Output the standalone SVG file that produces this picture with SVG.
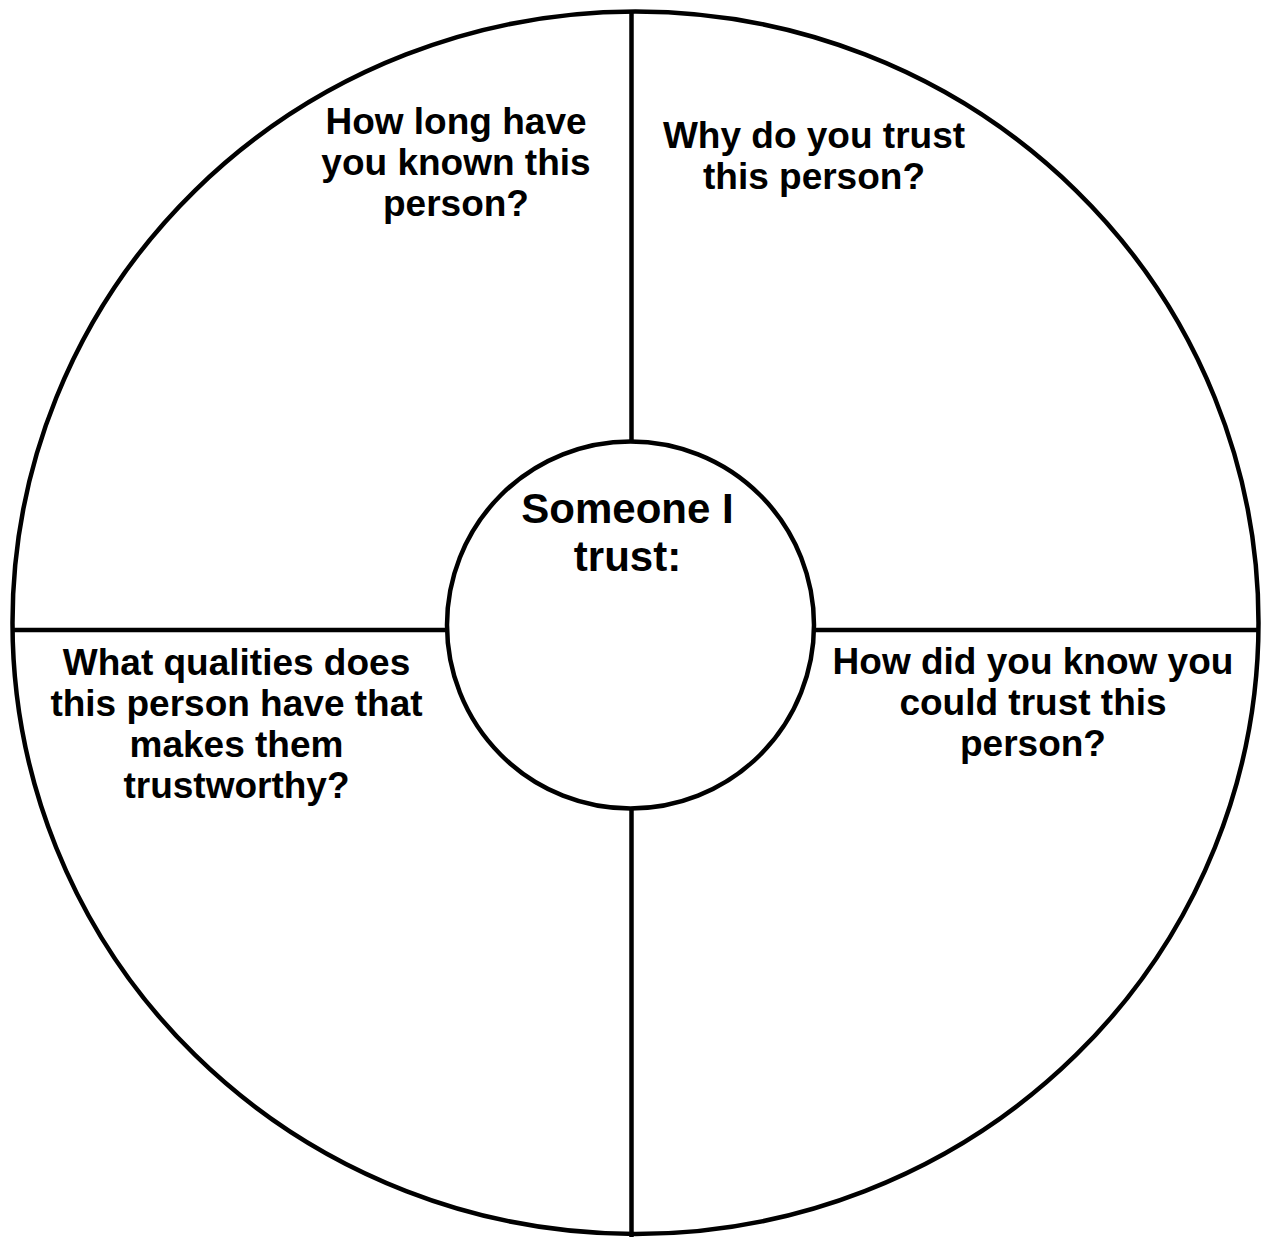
<svg xmlns="http://www.w3.org/2000/svg" width="1263" height="1237" viewBox="0 0 1263 1237">
  <style>
    .shape { fill: none; stroke: #000; stroke-width: 4.5; }
    .line { stroke: #000; stroke-width: 4.5; fill: none; }
    .q { font-family: "Liberation Sans", Arial, sans-serif; font-weight: bold; font-size: 37px; fill: #000; text-anchor: middle; }
    .c { font-family: "Liberation Sans", Arial, sans-serif; font-weight: bold; font-size: 42px; fill: #000; text-anchor: middle; }
  </style>
  <rect x="0" y="0" width="1263" height="1237" fill="#fff"/>
  <g id="connectors">
    <line class="line" x1="631.5" y1="12" x2="631.5" y2="442"/>
    <line class="line" x1="631.5" y1="808" x2="631.5" y2="1237"/>
    <line class="line" x1="14" y1="630" x2="447" y2="630"/>
    <line class="line" x1="814" y1="630" x2="1257" y2="630"/>
  </g>
  <g id="outer">
    <ellipse class="shape" cx="635.5" cy="622.75" rx="623" ry="611.25"/>
  </g>
  <g id="center">
    <circle class="shape" cx="630.5" cy="625" r="183.5" fill="#fff"/>
    <text class="c" x="627.5" y="523">Someone I</text>
    <text class="c" x="627.5" y="571">trust:</text>
  </g>
  <g id="q-top-left">
    <text class="q" x="456" y="134">How long have</text>
    <text class="q" x="456" y="175">you known this</text>
    <text class="q" x="456" y="216">person?</text>
  </g>
  <g id="q-top-right">
    <text class="q" x="814" y="148">Why do you trust</text>
    <text class="q" x="814" y="189">this person?</text>
  </g>
  <g id="q-bottom-left">
    <text class="q" x="236.5" y="675">What qualities does</text>
    <text class="q" x="236.5" y="716">this person have that</text>
    <text class="q" x="236.5" y="757">makes them</text>
    <text class="q" x="236.5" y="798">trustworthy?</text>
  </g>
  <g id="q-bottom-right">
    <text class="q" x="1033" y="674">How did you know you</text>
    <text class="q" x="1033" y="715">could trust this</text>
    <text class="q" x="1033" y="756">person?</text>
  </g>
</svg>
